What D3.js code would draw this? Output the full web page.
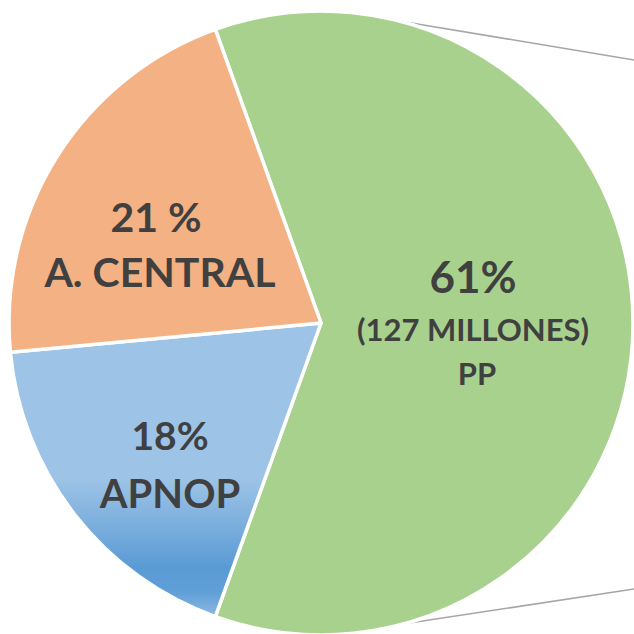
<!DOCTYPE html>
<html>
<head>
<meta charset="utf-8">
<script src="https://cdn.jsdelivr.net/npm/d3@7"></script>
<style>
  html, body { margin: 0; padding: 0; background: #fff; }
  svg { display: block; }
</style>
</head>
<body>
<script>
// slices, clockwise starting with PP (centred on 3 o'clock)
let names = ['PP', 'APNOP', 'A. CENTRAL'],
  values = [61, 18, 21],
  pctLabels = ['61%', '18%', '21 %'],
  subLabels = [['(127 MILLONES)', 'PP'], ['APNOP'], ['A. CENTRAL']],
  colors = ['#A9D18E', 'url(#blueGrad)', '#F4B183'];

let w = 634,
  h = 634,
  cx = 321,
  cy = 323,
  r = 312;

let svg = d3.select('body')
  .append('svg')
  .attr('width', w)
  .attr('height', h);

// excel style gradient on the blue slice (coords are inside the pie group)
let grad = svg.append('defs')
  .append('linearGradient')
  .attr('id', 'blueGrad')
  .attr('gradientUnits', 'userSpaceOnUse')
  .attr('x1', 0).attr('x2', 0)
  .attr('y1', 0).attr('y2', r);

[[0, '#9DC3E6'], [0.5, '#9DC3E6'], [0.7, '#6FA7DA'], [0.78, '#5B9BD5'], [0.86, '#5F9ED7'], [0.97, '#9DC3E6']]
  .forEach(s => grad.append('stop').attr('offset', s[0]).attr('stop-color', s[1]));

let total = d3.sum(values);
let start = Math.PI / 2 - Math.PI * values[0] / total;

let pie = d3.pie()
  .sort(null)
  .startAngle(start)
  .endAngle(start + 2 * Math.PI);

let arcs = pie(values);
let arc = d3.arc().innerRadius(0).outerRadius(r);

let g = svg.append('g').attr('transform', 'translate(' + cx + ',' + cy + ')');

// connector lines toward the (off-screen) second pie
let connAngles = [0.253, Math.PI - 0.265],
  connEnds = [[w, 60], [w, 589]];

g.selectAll('line.conn')
  .data(connAngles)
  .enter()
  .append('line')
  .attr('class', 'conn')
  .attr('x1', a => r * Math.sin(a))
  .attr('y1', a => -r * Math.cos(a))
  .attr('x2', (a, i) => connEnds[i][0] - cx)
  .attr('y2', (a, i) => connEnds[i][1] - cy)
  .attr('stroke', '#A6A6A6')
  .attr('stroke-width', 1.5);

g.selectAll('path')
  .data(arcs)
  .enter()
  .append('path')
  .attr('d', arc)
  .attr('fill', (d, i) => colors[i])
  .attr('stroke', '#fff')
  .attr('stroke-width', 3.5)
  .attr('stroke-linejoin', 'round');

// label positions (offset from centre) and sizes
let labelPos = [[152, -30], [-151, 127], [-165, -91]],
  pctSize = [44, 39, 41],
  subSize = [31, 40, 41],
  subGap = [[48, 92], [58], [55]];

let labels = svg.append('g')
  .attr('font-family', 'Lato, "Open Sans", sans-serif')
  .attr('font-weight', 'bold')
  .attr('fill', '#404040')
  .attr('text-anchor', 'middle');

arcs.forEach((d, i) => {
  let x = cx + labelPos[i][0],
    y = cy + labelPos[i][1];
  labels.append('text')
    .attr('x', x)
    .attr('y', y)
    .attr('font-size', pctSize[i] + 'px')
    .text(pctLabels[i]);
  subLabels[i].forEach((t, j) => {
    labels.append('text')
      .attr('x', x + (i === 0 && j === 1 ? 4 : (i === 2 ? 4 : 0)))
      .attr('y', y + subGap[i][j])
      .attr('font-size', subSize[i] + 'px')
      .text(t);
  });
});
</script>
</body>
</html>
